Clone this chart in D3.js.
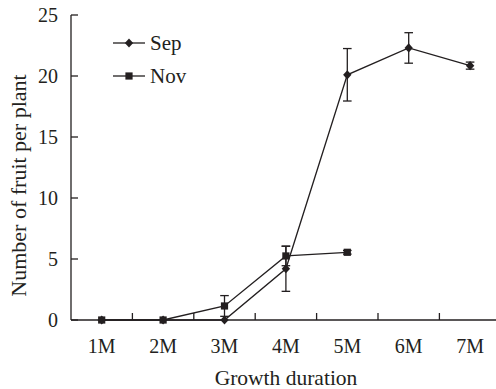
<!DOCTYPE html>
<html><head><meta charset="utf-8">
<script src="https://cdn.jsdelivr.net/npm/d3@7/dist/d3.min.js"></script>
<style>
svg text { font-family: "Liberation Serif", "Times New Roman", Times, serif !important; }
</style>
</head><body style="margin:0"><svg id="c" width="496" height="389"></svg>
<script>
const categories = ["1M","2M","3M","4M","5M","6M","7M"];
const sepValues = [0, 0, 0, 4.2, 20.1, 22.3, 20.85];
const sepErrors = [0, 0, 0, 1.85, 2.15, 1.25, 0.29];
const novValues = [0, 0, 1.15, 5.25, 5.55];
const novErrors = [0, 0, 0.85, 0.8, 0.15];
const yTicks = [0, 5, 10, 15, 20, 25];
const seriesNames = ["Sep", "Nov"];

const svg = d3.select("#c");
const ink = "#231f20";
const x = d3.scaleBand().domain(categories).range([71, 500.8]).paddingInner(0).paddingOuter(0);
const y = d3.scaleLinear().domain([0, 25]).range([320, 15]);

const diamondPath = "M0,-4.6L4.2,0L0,4.6L-4.2,0Z";
const squarePath = d3.symbol().type(d3.symbolSquare).size(52)();

function txt(xp, yp, s, size, anchor) {
  return svg.append("text").attr("x", xp).attr("y", yp)
    .style("font-family", "Liberation Serif, serif")
    .style("font-size", size + "px").attr("text-anchor", anchor || "start").attr("fill", ink).text(s);
}

svg.append("line").attr("x1", 71).attr("x2", 500).attr("y1", y(0)).attr("y2", y(0)).attr("stroke", ink).attr("stroke-width", 1.3);
svg.append("line").attr("x1", 71).attr("x2", 71).attr("y1", y(0)).attr("y2", y(25)).attr("stroke", ink).attr("stroke-width", 1.3);
yTicks.forEach(t => {
  svg.append("line").attr("x1", 71).attr("x2", 78).attr("y1", y(t)).attr("y2", y(t)).attr("stroke", ink).attr("stroke-width", 1.3);
  txt(58, y(t) + 7, t, 20, "end");
});
categories.forEach((c, i) => {
  if (i < categories.length - 1) {
    const bx = x(c) + x.bandwidth();
    svg.append("line").attr("x1", bx).attr("x2", bx).attr("y1", y(0)).attr("y2", y(0) - 7).attr("stroke", ink).attr("stroke-width", 1.3);
  }
  txt(x(c) + x.bandwidth() / 2, 353, c, 20, "middle");
});
txt(286, 385, "Growth duration", 21.5, "middle");
txt(0, 0, "Number of fruit per plant", 22, "middle").attr("x", null).attr("y", null)
  .attr("transform", "translate(26,185.5) rotate(-90)");

const cx = i => x(categories[i]) + x.bandwidth() / 2;
const line = d3.line().x((d, i) => cx(i)).y(d => y(d));

function drawSeries(vals, errs, shape) {
  svg.append("path").attr("d", line(vals)).attr("fill", "none").attr("stroke", ink).attr("stroke-width", 1.3);
  vals.forEach((v, i) => {
    const e = errs[i];
    if (e > 0) {
      const g = svg.append("g").attr("stroke", ink).attr("stroke-width", 1.3);
      g.append("line").attr("x1", cx(i)).attr("x2", cx(i)).attr("y1", y(v - e)).attr("y2", y(v + e));
      [v - e, v + e].forEach(w => g.append("line").attr("x1", cx(i) - 4.3).attr("x2", cx(i) + 4.3).attr("y1", y(w)).attr("y2", y(w)));
    }
    svg.append("path").attr("d", shape).attr("transform", `translate(${cx(i)},${y(v)})`).attr("fill", ink);
  });
}
drawSeries(sepValues, sepErrors, diamondPath);
drawSeries(novValues, novErrors, squarePath);

[[diamondPath, 43], [squarePath, 76]].forEach(([shape, ly], k) => {
  svg.append("line").attr("x1", 113).attr("x2", 145).attr("y1", ly).attr("y2", ly).attr("stroke", ink).attr("stroke-width", 1.3);
  svg.append("path").attr("d", shape).attr("transform", `translate(129,${ly})`).attr("fill", ink);
  txt(150, ly + 7, seriesNames[k], 21);
});
</script></body></html>
